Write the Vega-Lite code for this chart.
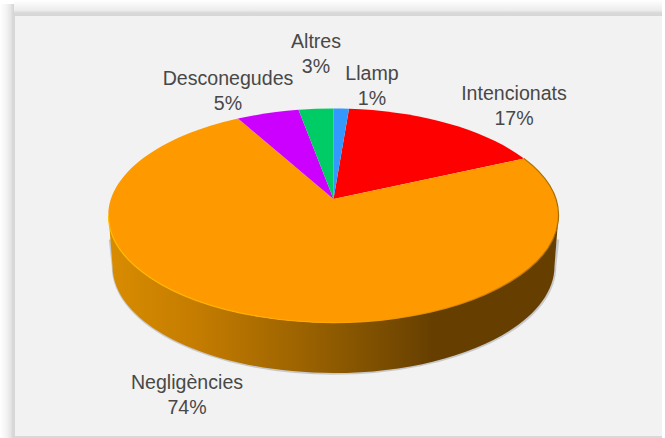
{
  "$schema": "https://vega.github.io/schema/vega-lite/v6.json",
  "width": 665,
  "height": 438,
  "padding": 0,
  "autosize": "none",
  "background": "#ffffff",
  "view": {"stroke": null},
  "data": {"values": [
    {"cause": "Intencionats", "share": 0.17},
    {"cause": "Negligències", "share": 0.74},
    {"cause": "Desconegudes", "share": 0.05},
    {"cause": "Altres", "share": 0.03},
    {"cause": "Llamp", "share": 0.01}
  ]},
  "transform": [{"calculate": "datum.cause + '\\n' + format(datum.share, '.0%')", "as": "label"}],
  "layer": [
    {"mark": {"type": "rect", "x": 15, "x2": 662, "y": 16, "y2": 436, "fill": "#f2f2f2"}, "encoding": {}},
    {"mark": {"type": "rect", "x": 0, "x2": 15, "y": 4, "y2": 438, "fill": {"gradient": "linear", "x1": 0, "y1": 0, "x2": 1, "y2": 0, "stops": [{"offset": 0, "color": "#ffffff"}, {"offset": 0.4, "color": "#f4f4f4"}, {"offset": 0.7, "color": "#e6e6e6"}, {"offset": 0.87, "color": "#d6d6d6"}, {"offset": 1, "color": "#d9d9d9"}]}}, "encoding": {}},
    {"mark": {"type": "rect", "x": 14, "x2": 662, "y": 0, "y2": 16, "fill": {"gradient": "linear", "x1": 0, "y1": 0, "x2": 0, "y2": 1, "stops": [{"offset": 0, "color": "#ffffff"}, {"offset": 0.3, "color": "#f6f6f6"}, {"offset": 0.65, "color": "#ececec"}, {"offset": 0.8, "color": "#d9d9d9"}, {"offset": 1, "color": "#d6d6d6"}]}}, "encoding": {}},
    {"mark": {"type": "rect", "x": 15, "x2": 662, "y": 436, "y2": 438, "fill": "#d9d9d9"}, "encoding": {}},
    {
      "transform": [{"filter": "datum.cause === 'Negligències'"}],
      "mark": {"type": "point", "filled": false, "size": 4, "opacity": 0.4, "stroke": "#8c8c8c", "strokeWidth": 2.5, "shape": "M-224,40L-221,67A221,107 0 0 0 221,67L224,40"},
      "encoding": {
        "x": {"datum": 0.5, "type": "quantitative", "scale": {"domain": [-333.5, 331.5], "nice": false, "zero": false}, "axis": null},
        "y": {"datum": 0.5, "type": "quantitative", "scale": {"domain": [239, -199], "nice": false, "zero": false}, "axis": null}
      }
    },
    {
      "transform": [{"filter": "datum.cause === 'Negligències'"}],
      "mark": {"type": "point", "filled": true, "opacity": 1, "size": 4, "shape": "M-225,16.5L-221,67A221,107 0 0 0 221,67L225,16.5A225,107 0 0 1 -225,16.5Z",
        "fill": {"gradient": "linear", "x1": 0, "y1": 0, "x2": 1, "y2": 0, "stops": [{"offset": 0, "color": "#d98c00"}, {"offset": 0.2, "color": "#c47c00"}, {"offset": 0.5, "color": "#8f5b00"}, {"offset": 0.72, "color": "#663f00"}, {"offset": 1, "color": "#663f00"}]}},
      "encoding": {
        "x": {"datum": 0, "type": "quantitative", "scale": {"domain": [-333.5, 331.5], "nice": false, "zero": false}, "axis": null},
        "y": {"datum": 0, "type": "quantitative", "scale": {"domain": [239, -199], "nice": false, "zero": false}, "axis": null}
      }
    },
    {
      "mark": {"type": "point", "filled": true, "opacity": 1, "size": 4},
      "encoding": {
        "x": {"datum": 0, "type": "quantitative", "scale": {"domain": [-333.5, 331.5], "nice": false, "zero": false}, "axis": null},
        "y": {"datum": 0, "type": "quantitative", "scale": {"domain": [239, -199], "nice": false, "zero": false}, "axis": null},
        "color": {"field": "cause", "type": "nominal", "legend": null, "scale": {
          "domain": ["Intencionats", "Negligències", "Desconegudes", "Altres", "Llamp"],
          "range": ["#ff0000", "#ff9900", "#cc00ff", "#00cc66", "#3399ff"]}},
        "shape": {"field": "cause", "type": "nominal", "legend": null, "scale": {
          "domain": ["Intencionats", "Negligències", "Desconegudes", "Altres", "Llamp"],
          "range": [
            "M0,0L15.5,-90.25A225,107 0 0 1 190.5,-40.4Z",
            "M0,0L190.5,-40.4A225,107 0 1 1 -95.5,-80.4Z",
            "M0,0L-95.5,-80.4A225,107 0 0 1 -35,-89.2Z",
            "M0,0L-35,-89.2A225,107 0 0 1 0,-90.5Z",
            "M0,0L0,-90.5A225,107 0 0 1 15.5,-90.25Z"
          ]}}
      }
    },
    {
      "transform": [{"filter": "datum.cause === 'Negligències'"}],
      "mark": {"type": "point", "filled": false, "opacity": 1, "size": 4, "strokeWidth": 1.2, "shape": "M190.5,-40.4A225,107 0 1 1 -225,16.5",
        "stroke": {"gradient": "linear", "x1": 0, "y1": 0, "x2": 1, "y2": 0, "stops": [{"offset": 0, "color": "#ffbb00"}, {"offset": 0.5, "color": "#ffa800"}, {"offset": 0.8, "color": "#d98600"}, {"offset": 1, "color": "#a56a00"}]}},
      "encoding": {
        "x": {"datum": 0, "type": "quantitative", "scale": {"domain": [-333.5, 331.5], "nice": false, "zero": false}, "axis": null},
        "y": {"datum": 0, "type": "quantitative", "scale": {"domain": [239, -199], "nice": false, "zero": false}, "axis": null}
      }
    },
    {
      "transform": [{"filter": "datum.cause === 'Intencionats'"}],
      "mark": {"type": "text", "font": "Liberation Sans", "fontSize": 19.6, "color": "#484848", "baseline": "alphabetic", "align": "center", "lineBreak": "\n", "lineHeight": 24.5},
      "encoding": {
        "x": {"datum": 514, "type": "quantitative", "scale": {"domain": [0, 665], "nice": false, "zero": false}, "axis": null},
        "y": {"datum": 100, "type": "quantitative", "scale": {"domain": [438, 0], "nice": false, "zero": false}, "axis": null},
        "text": {"field": "label", "type": "nominal"}
      }
    },
    {
      "transform": [{"filter": "datum.cause === 'Negligències'"}],
      "mark": {"type": "text", "font": "Liberation Sans", "fontSize": 19.6, "color": "#484848", "baseline": "alphabetic", "align": "center", "lineBreak": "\n", "lineHeight": 24.5},
      "encoding": {
        "x": {"datum": 187, "type": "quantitative", "scale": {"domain": [0, 665], "nice": false, "zero": false}, "axis": null},
        "y": {"datum": 389, "type": "quantitative", "scale": {"domain": [438, 0], "nice": false, "zero": false}, "axis": null},
        "text": {"field": "label", "type": "nominal"}
      }
    },
    {
      "transform": [{"filter": "datum.cause === 'Desconegudes'"}],
      "mark": {"type": "text", "font": "Liberation Sans", "fontSize": 19.6, "color": "#484848", "baseline": "alphabetic", "align": "center", "lineBreak": "\n", "lineHeight": 24.5},
      "encoding": {
        "x": {"datum": 228, "type": "quantitative", "scale": {"domain": [0, 665], "nice": false, "zero": false}, "axis": null},
        "y": {"datum": 85, "type": "quantitative", "scale": {"domain": [438, 0], "nice": false, "zero": false}, "axis": null},
        "text": {"field": "label", "type": "nominal"}
      }
    },
    {
      "transform": [{"filter": "datum.cause === 'Altres'"}],
      "mark": {"type": "text", "font": "Liberation Sans", "fontSize": 19.6, "color": "#484848", "baseline": "alphabetic", "align": "center", "lineBreak": "\n", "lineHeight": 24.5},
      "encoding": {
        "x": {"datum": 316, "type": "quantitative", "scale": {"domain": [0, 665], "nice": false, "zero": false}, "axis": null},
        "y": {"datum": 48, "type": "quantitative", "scale": {"domain": [438, 0], "nice": false, "zero": false}, "axis": null},
        "text": {"field": "label", "type": "nominal"}
      }
    },
    {
      "transform": [{"filter": "datum.cause === 'Llamp'"}],
      "mark": {"type": "text", "font": "Liberation Sans", "fontSize": 19.6, "color": "#484848", "baseline": "alphabetic", "align": "center", "lineBreak": "\n", "lineHeight": 24.5},
      "encoding": {
        "x": {"datum": 372, "type": "quantitative", "scale": {"domain": [0, 665], "nice": false, "zero": false}, "axis": null},
        "y": {"datum": 80, "type": "quantitative", "scale": {"domain": [438, 0], "nice": false, "zero": false}, "axis": null},
        "text": {"field": "label", "type": "nominal"}
      }
    }
  ],
  "resolve": {"scale": {"x": "independent", "y": "independent", "color": "independent", "shape": "independent"}}
}
